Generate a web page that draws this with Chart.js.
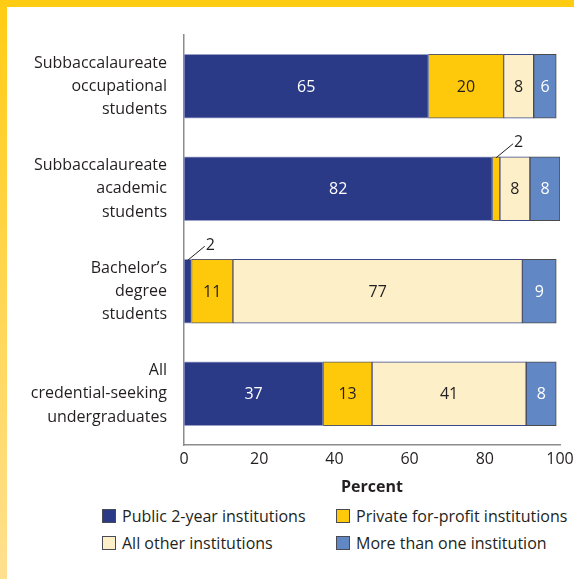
<!DOCTYPE html>
<html>
<head>
    <title>Undergraduates by type of institution attended</title>
    <script src="https://cdn.jsdelivr.net/npm/chart.js"></script>
    <style>
        body {
            margin: 0;
            background: #fff;
            font-family: 'Open Sans', sans-serif;
            color: #231f20;
        }
        .frame {
            position: relative;
            width: 574px;
            height: 579px;
            overflow: hidden;
            background: #fff;
        }
        .edge-top {
            position: absolute;
            left: 0;
            top: 0;
            width: 574px;
            height: 7px;
            background: #ffcc14;
        }
        .edge-left {
            position: absolute;
            left: 0;
            top: 0;
            width: 7px;
            height: 579px;
            background: linear-gradient(#ffcc14, #ffe08f);
        }
        #chartBox {
            position: absolute;
            left: 0;
            top: 0;
            width: 574px;
            height: 500px;
        }
        .legend-item {
            position: absolute;
            font-size: 16px;
            line-height: 26px;
            white-space: nowrap;
        }
        .swatch {
            display: inline-block;
            width: 12px;
            height: 12px;
            border: 1px solid #4a4a55;
            margin-right: 6px;
            vertical-align: -1px;
        }
    </style>
</head>
<body>
    <div class="frame">
        <div id="chartBox"><canvas id="chart"></canvas></div>
        <div id="legend"></div>
        <div class="edge-top"></div>
        <div class="edge-left"></div>
    </div>

    <script>
        // categories (one array per multi-line label)
        const categories = [
            ['Subbaccalaureate', 'occupational', 'students'],
            ['Subbaccalaureate', 'academic', 'students'],
            ['Bachelor\u2019s', 'degree', 'students'],
            ['All', 'credential-seeking', 'undergraduates']
        ];
        const seriesNames = [
            'Public 2-year institutions',
            'Private for-profit institutions',
            'All other institutions',
            'More than one institution'
        ];
        // percent values per category
        const public2Year = [65, 82, 2, 37];
        const privateForProfit = [20, 2, 11, 13];
        const allOther = [8, 8, 77, 41];
        const moreThanOne = [6, 8, 9, 8];
        const xTicks = [0, 20, 40, 60, 80, 100];

        const fillColors = ['#2a3a87', '#ffc90b', '#fdefc8', '#6287c5'];
        const edgeColors = ['#9aa0c8', '#5a5a6a', '#3a4688', '#4a4a4a'];
        const labelColors = ['#ffffff', '#231f20', '#231f20', '#ffffff'];
        const dark = '#231f20';

        const seriesData = [public2Year, privateForProfit, allOther, moreThanOne];

        // legend in two fixed columns
        const legend = document.getElementById('legend');
        seriesNames.forEach(function(name, i) {
            const item = document.createElement('div');
            item.className = 'legend-item';
            item.style.left = (i % 2 ? 336 : 102) + 'px';
            item.style.top = (i < 2 ? 503 : 530) + 'px';
            const sw = document.createElement('span');
            sw.className = 'swatch';
            sw.style.background = fillColors[i];
            item.appendChild(sw);
            item.appendChild(document.createTextNode(name));
            legend.appendChild(item);
        });

        // numbers on the segments, small ones get a leader line
        const barLabels = {
            id: 'barLabels',
            afterDatasetsDraw(chart) {
                const ctx = chart.ctx;
                ctx.save();
                ctx.font = '16px "Open Sans"';
                ctx.textBaseline = 'middle';
                chart.data.datasets.forEach(function(ds, di) {
                    chart.getDatasetMeta(di).data.forEach(function(bar, i) {
                        const v = ds.data[i];
                        const cx = (bar.x + bar.base) / 2;
                        if (v < 4) {
                            const top = bar.y - bar.height / 2;
                            ctx.strokeStyle = dark;
                            ctx.lineWidth = 1;
                            ctx.beginPath();
                            ctx.moveTo(cx, top + 1);
                            ctx.lineTo(cx + 17, top - 13);
                            ctx.stroke();
                            ctx.fillStyle = dark;
                            ctx.textAlign = 'left';
                            ctx.fillText(String(v), cx + 18, top - 14);
                        } else {
                            ctx.fillStyle = labelColors[di];
                            ctx.textAlign = 'center';
                            ctx.fillText(String(v), cx, bar.y + 1);
                        }
                    });
                });
                ctx.restore();
            }
        };

        const ctx = document.getElementById('chart').getContext('2d');
        const chart = new Chart(ctx, {
            type: 'bar',
            data: {
                labels: categories,
                datasets: seriesNames.map(function(name, i) {
                    return {
                        label: name,
                        data: seriesData[i],
                        backgroundColor: fillColors[i],
                        borderColor: edgeColors[i],
                        borderWidth: 1,
                        borderSkipped: false,
                        barThickness: 64
                    };
                })
            },
            options: {
                indexAxis: 'y',
                responsive: true,
                maintainAspectRatio: false,
                animation: false,
                layout: {
                    padding: { top: 35, right: 14, bottom: 0, left: 0 }
                },
                plugins: {
                    legend: { display: false },
                    tooltip: { enabled: false }
                },
                scales: {
                    x: {
                        stacked: true,
                        min: 0,
                        max: 100,
                        grid: { display: false, drawTicks: false },
                        border: { display: true, color: '#8c8c8c', width: 1.5 },
                        afterBuildTicks: function(scale) {
                            scale.ticks = xTicks.map(v => ({ value: v }));
                        },
                        afterFit: function(scale) {
                            scale.height = 55;
                            scale.paddingLeft = 0;
                            scale.paddingRight = 0;
                        },
                        ticks: {
                            color: dark,
                            padding: 5,
                            maxRotation: 0,
                            font: { family: 'Open Sans', size: 16 }
                        },
                        title: {
                            display: true,
                            text: 'Percent',
                            color: dark,
                            padding: { top: 0, bottom: 3 },
                            font: { family: 'Open Sans', size: 16, weight: 'bold' }
                        }
                    },
                    y: {
                        stacked: true,
                        grid: { display: false, drawTicks: false },
                        border: { display: true, color: '#8c8c8c', width: 1.5 },
                        afterFit: function(scale) {
                            scale.width = 184;
                            scale.paddingTop = 0;
                            scale.paddingBottom = 0;
                        },
                        ticks: {
                            color: dark,
                            padding: 17,
                            font: { family: 'Open Sans', size: 16, lineHeight: 1.45 }
                        }
                    }
                }
            },
            plugins: [barLabels]
        });
    </script>
</body>
</html>
